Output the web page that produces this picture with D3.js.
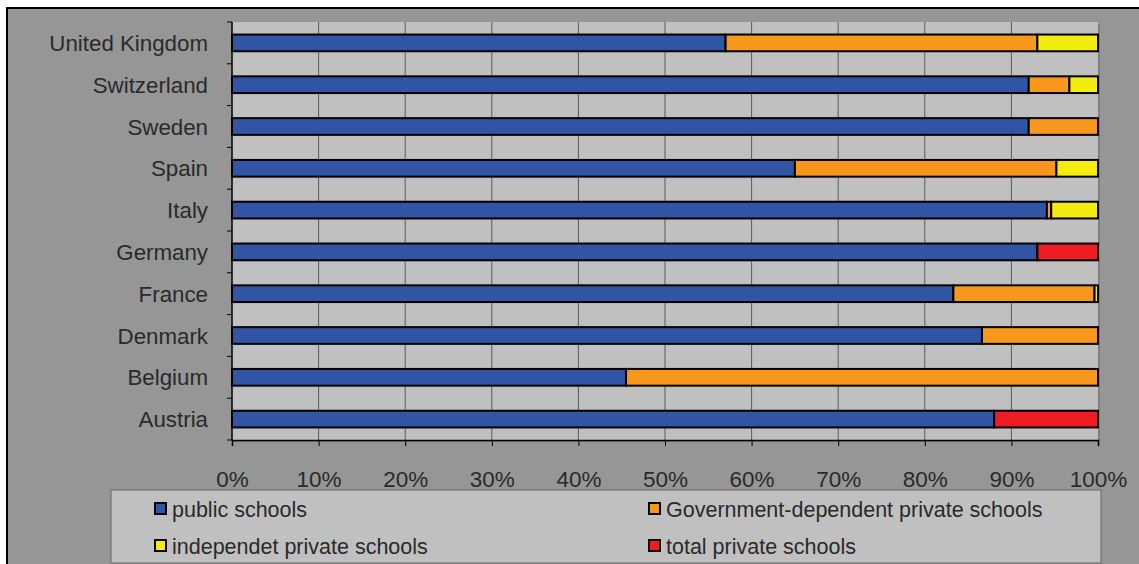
<!DOCTYPE html>
<html><head><meta charset="utf-8">
<script src="https://cdn.jsdelivr.net/npm/d3@7"></script>
<style>body{margin:0;background:#fff}svg{display:block}</style>
</head><body>
<svg id="c" width="1139" height="564"></svg>
<script>
const categories = ["United Kingdom","Switzerland","Sweden","Spain","Italy","Germany","France","Denmark","Belgium","Austria"];
const publicSchools = [57, 92, 92, 65, 94.1, 93, 83.3, 86.6, 45.5, 88];
const govDependent  = [36, 4.7, 8, 30.2, 0.5, 0, 16.3, 13.4, 54.5, 0];
const independent   = [7, 3.3, 0, 4.8, 5.4, 0, 0.4, 0, 0, 0];
const totalPrivate  = [0, 0, 0, 0, 0, 7, 0, 0, 0, 12];
const seriesNames = ["public schools","Government-dependent private schools","independet private schools","total private schools"];
const seriesColors = ["#3154A5","#F7981D","#F4EB0F","#EE1D23"];
const tickValues = [0,10,20,30,40,50,60,70,80,90,100];

const svg = d3.select("#c");
const font = "Liberation Sans, Arial, sans-serif";
const textColor = "#2a2a2a";

// outer chart area
svg.append("rect").attr("x",7).attr("y",8).attr("width",1140).attr("height",570)
  .attr("fill","#969696").attr("stroke","#000").attr("stroke-width",2);

const m = {left:232, right:1098, top:22, bottom:440};
const x = d3.scaleLinear().domain([0,100]).range([m.left,m.right]);
const y = d3.scaleBand().domain(categories).range([m.top,m.bottom]).paddingInner(0.6).paddingOuter(0.3);

// plot shadow + background
svg.append("rect").attr("x",m.left+2).attr("y",m.top+2).attr("width",m.right-m.left).attr("height",m.bottom-m.top).attr("fill","#808080");
svg.append("rect").attr("x",m.left).attr("y",m.top).attr("width",m.right-m.left).attr("height",m.bottom-m.top).attr("fill","#C0C0C0");

// gridlines
svg.append("g").selectAll("line").data(tickValues.slice(1,-1)).join("line")
  .attr("x1",d=>x(d)).attr("x2",d=>x(d)).attr("y1",m.top).attr("y2",m.bottom)
  .attr("stroke","#5a5a5a").attr("stroke-width",1);

// stacked data
const rows = categories.map((c,i)=>({cat:c, vals:[publicSchools[i],govDependent[i],independent[i],totalPrivate[i]]}));
const segs = [];
rows.forEach(r=>{let acc=0; r.vals.forEach((v,k)=>{ if(v>0){segs.push({cat:r.cat,x0:acc,x1:acc+v,k}); } acc+=v;});});

svg.append("g").selectAll("rect").data(segs).join("rect")
  .attr("x",d=>x(d.x0)).attr("width",d=>x(d.x1)-x(d.x0))
  .attr("y",d=>y(d.cat)).attr("height",y.bandwidth())
  .attr("fill",d=>seriesColors[d.k]).attr("stroke","#000").attr("stroke-width",2);

// axes
const xAxis = d3.axisBottom(x).tickValues(tickValues).tickFormat(d=>d+"%").tickSize(6).tickPadding(25);
const gx = svg.append("g").attr("transform",`translate(0,${m.bottom})`).call(xAxis);
gx.select(".domain").attr("stroke","#000").attr("stroke-width",1.5);
gx.selectAll(".tick line").attr("stroke","#000");
gx.selectAll("text").attr("font-family",font).attr("font-size",22.5).attr("fill",textColor);

// left axis: ticks at band boundaries
const gy = svg.append("g");
gy.append("line").attr("x1",m.left).attr("x2",m.left).attr("y1",m.top).attr("y2",m.bottom).attr("stroke","#000").attr("stroke-width",1.5);
const step = (m.bottom-m.top)/categories.length;
gy.selectAll("line.t").data(d3.range(categories.length+1)).join("line").attr("class","t")
  .attr("x1",m.left-5).attr("x2",m.left).attr("y1",i=>m.top+i*step).attr("y2",i=>m.top+i*step).attr("stroke","#000");
gy.selectAll("text").data(categories).join("text")
  .attr("x",208).attr("y",d=>y(d)+y.bandwidth()/2+8)
  .attr("text-anchor","end").attr("font-family",font).attr("font-size",22.3).attr("fill",textColor).text(d=>d);

// legend
const lg = svg.append("g");
lg.append("rect").attr("x",111).attr("y",490).attr("width",990).attr("height",73)
  .attr("fill","#C0C0C0").attr("stroke","#666").attr("stroke-width",1);
const legPos = [[155,509],[649,509],[155,546],[649,546]];
seriesNames.forEach((n,i)=>{
  const [lx,ly]=legPos[i];
  lg.append("rect").attr("x",lx).attr("y",ly-6).attr("width",11).attr("height",11)
    .attr("fill",seriesColors[i]).attr("stroke","#000").attr("stroke-width",2);
  lg.append("text").attr("x",lx+17).attr("y",ly+7.5)
    .attr("font-family",font).attr("font-size",21.5).attr("fill",textColor).text(n);
});
</script>
</body></html>
